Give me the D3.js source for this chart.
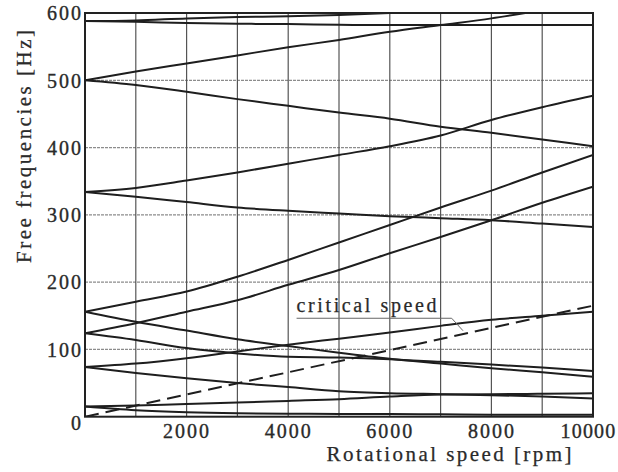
<!DOCTYPE html>
<html>
<head>
<meta charset="utf-8">
<script src="https://cdn.jsdelivr.net/npm/d3@7"></script>
<style>
  html, body { margin: 0; padding: 0; background: #fff; }
  svg { display: block; }
  text { font-family: "Liberation Serif", "Times New Roman", serif; fill: #2a2a2a; }
</style>
</head>
<body>
<svg id="chart" width="618" height="472"></svg>
<script>
// ---------------- data ----------------
const rpm = [0, 1000, 2000, 3000, 4000, 5000, 6000, 7000, 8000, 9000, 10000];

const mode588Up   = [588, 589, 592, 594, 595, 597, 600, 602, 604, 606, 608];
const mode588Down = [588, 587, 585, 584, 583.5, 582.5, 582, 582, 582, 582, 582];
const mode500Up   = [500, 513, 525, 537, 549, 560, 572, 582, 592, 604, 616];
const mode500Down = [500, 493, 483, 472, 462, 452, 443, 431, 422, 412, 402];
const mode333Up   = [334, 340, 351, 363, 376, 389, 402, 418, 441, 460, 477];
const mode333Down = [334, 327, 319, 311, 306, 302, 298, 295, 292, 287, 282];
const mode157Up   = [156, 171, 186, 208, 233, 259, 285, 311, 336, 363, 389];
const mode157Down = [156, 141, 128, 115, 105, 95, 86, 79, 72, 66, 59.5];
const mode125Up   = [124, 139, 156, 173, 196, 218, 243, 267, 292, 318, 342];
const mode125Down = [124, 114, 102, 94, 89, 88, 85.5, 81.5, 77.5, 73, 68];
const mode75Up    = [74, 79, 87, 97, 107, 116, 125, 135, 144, 150, 156];
const mode75Down  = [74, 65, 57, 50, 44, 38, 35, 33.5, 32, 30, 27];
const mode15Up    = [15, 16.5, 19, 21, 23.5, 26, 30, 33, 33.5, 34, 35];
const mode15Down  = [15, 9.5, 6.5, 5, 4.5, 4, 4, 3.5, 3, 3, 3];

const criticalRpm = [0, 10000];
const criticalHz  = [0, 165];

const xTicks = [2000, 4000, 6000, 8000, 10000];
const yTicks = [0, 100, 200, 300, 400, 500, 600];
const xGrid  = [1000, 2000, 3000, 4000, 5000, 6000, 7000, 8000, 9000];
const yGrid  = [100, 200, 300, 400, 500];

const annotationText = "critical speed";
const annotationTextPos = [4165, 156];       // rpm, Hz (baseline start)
const annotationLeader = [[4165, 146.3], [7218, 146.3], [7441, 127.8]];

const xTitle = "Rotational speed [rpm]";
const yTitle = "Free frequencies [Hz]";

// ---------------- drawing ----------------
const svg = d3.select("#chart");
const x = d3.scaleLinear().domain([0, 10000]).range([85, 593]);
const y = d3.scaleLinear().domain([0, 600]).range([416.7, 13]);

svg.append("defs").append("clipPath").attr("id", "plotclip")
  .append("rect")
  .attr("x", x(0)).attr("y", y(600))
  .attr("width", x(10000) - x(0)).attr("height", y(0) - y(600));

// grid
svg.append("g").selectAll("line").data(yGrid).join("line")
  .attr("x1", x(0)).attr("x2", x(10000))
  .attr("y1", d => y(d)).attr("y2", d => y(d))
  .attr("stroke", "#8c8c8c").attr("stroke-width", 1.3)
  .attr("stroke-dasharray", "3,1");
svg.append("g").selectAll("line").data(xGrid).join("line")
  .attr("x1", d => x(d)).attr("x2", d => x(d))
  .attr("y1", y(0)).attr("y2", y(600))
  .attr("stroke", "#555").attr("stroke-width", 1.2);

// curves
const modes = [mode588Up, mode588Down, mode500Up, mode500Down, mode333Up, mode333Down,
  mode157Up, mode157Down, mode125Up, mode125Down, mode75Up, mode75Down, mode15Up, mode15Down];
const line = d3.line()
  .x((d, i) => x(rpm[i]))
  .y(d => y(d))
  .curve(d3.curveMonotoneX);
const curves = svg.append("g").attr("clip-path", "url(#plotclip)");
curves.selectAll("path.mode").data(modes).join("path")
  .attr("class", "mode")
  .attr("d", line)
  .attr("fill", "none")
  .attr("stroke", "#1e1e1e")
  .attr("stroke-width", 2);

// critical speed dashed line
const critLine = d3.line().x((d, i) => x(criticalRpm[i])).y(d => y(d));
curves.append("path")
  .attr("d", critLine(criticalHz))
  .attr("fill", "none")
  .attr("stroke", "#1e1e1e")
  .attr("stroke-width", 2)
  .attr("stroke-dasharray", "14,7");

// frame
svg.append("rect")
  .attr("x", x(0)).attr("y", y(600))
  .attr("width", x(10000) - x(0)).attr("height", y(0) - y(600))
  .attr("fill", "none").attr("stroke", "#222").attr("stroke-width", 2);

// axes
const xAxis = svg.append("g")
  .attr("transform", `translate(0,${y(0)})`)
  .call(d3.axisBottom(x).tickValues(xTicks).tickSize(0).tickFormat(d3.format("d")));
xAxis.select(".domain").remove();
xAxis.selectAll("text")
  .attr("dy", null).attr("y", 21)
  .attr("dx", d => d === 10000 ? -5 : 0)
  .attr("font-size", 20).attr("letter-spacing", d => d === 10000 ? 1.2 : 2)
  .attr("font-family", "Liberation Serif").attr("fill", "#2a2a2a")
  .attr("stroke", "#2a2a2a").attr("stroke-width", 0.35);

const yAxis = svg.append("g")
  .attr("transform", `translate(${x(0)},0)`)
  .call(d3.axisLeft(y).tickValues(yTicks).tickSize(0).tickPadding(2).tickFormat(d3.format("d")));
yAxis.select(".domain").remove();
yAxis.selectAll("text")
  .attr("font-size", 20).attr("letter-spacing", 2)
  .attr("font-family", "Liberation Serif").attr("fill", "#2a2a2a")
  .attr("stroke", "#2a2a2a").attr("stroke-width", 0.35)
  .attr("dy", d => d === 0 ? "0.64em" : "0.34em");

// annotation
svg.append("text")
  .attr("x", x(annotationTextPos[0])).attr("y", y(annotationTextPos[1]))
  .attr("font-size", 20)
  .attr("textLength", 140).attr("lengthAdjust", "spacing")
  .attr("stroke", "#2a2a2a").attr("stroke-width", 0.25)
  .text(annotationText);
svg.append("path")
  .attr("d", d3.line().x(d => x(d[0])).y(d => y(d[1]))(annotationLeader))
  .attr("fill", "none").attr("stroke", "#666").attr("stroke-width", 1);

// titles
svg.append("text")
  .attr("x", 449).attr("y", 461)
  .attr("text-anchor", "middle")
  .attr("font-size", 21)
  .attr("textLength", 245).attr("lengthAdjust", "spacing")
  .attr("stroke", "#2a2a2a").attr("stroke-width", 0.25)
  .text(xTitle);
svg.append("text")
  .attr("transform", "translate(31,146.5) rotate(-90)")
  .attr("text-anchor", "middle")
  .attr("font-size", 21)
  .attr("textLength", 233).attr("lengthAdjust", "spacing")
  .attr("stroke", "#2a2a2a").attr("stroke-width", 0.25)
  .text(yTitle);
</script>
</body>
</html>
